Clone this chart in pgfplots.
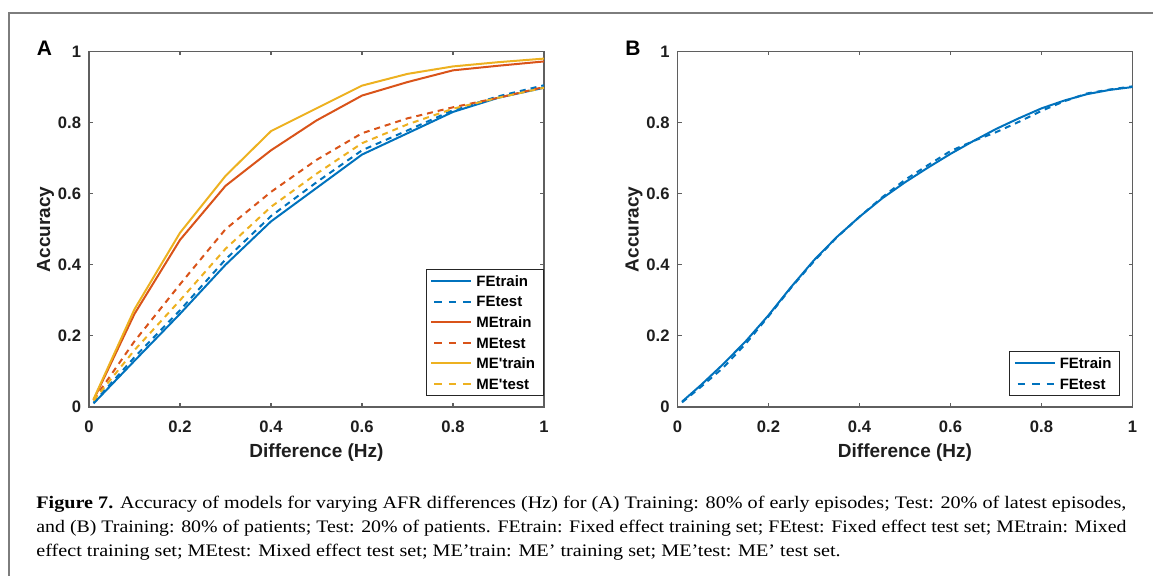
\documentclass[border=0pt]{standalone}
\usepackage{pgfplots}
\pgfplotsset{compat=1.18}
\usepackage{graphicx}
\usepackage{fontspec}
\setmainfont{Liberation Sans}
\newfontfamily\capfont{Liberation Serif}

\definecolor{mblue}{RGB}{0,114,189}
\definecolor{morange}{RGB}{217,83,25}
\definecolor{myellow}{RGB}{237,177,32}
\definecolor{axgray}{RGB}{95,95,95}
\definecolor{txt}{RGB}{30,30,30}
\definecolor{framegray}{RGB}{125,125,125}

\newsavebox\capbox
\newlength\capw
\newcommand\capsize{\capfont\fontsize{8.8}{10}\selectfont}

% MATLAB-like box axis, 1 px of the reference = 0.5pt
\pgfplotsset{
  matlab/.style={
    scale only axis, width=227.5pt, height=177.75pt,
    anchor=south west,
    xmin=0, xmax=1, ymin=0, ymax=1,
    xtick={0,0.2,0.4,0.6,0.8,1}, ytick={0,0.2,0.4,0.6,0.8,1},
    tick align=inside, major tick length=2pt,
    axis line style={axgray, line width=0.8pt},
    tick style={axgray, line width=0.6pt},
    /pgf/number format/assume math mode=true,
    tick label style={font=\bfseries\fontsize{8.3}{9}\selectfont, text=txt, inner sep=0pt},
    xticklabel style={yshift=-7pt},
    yticklabel style={xshift=-3.8pt},
    label style={font=\bfseries\fontsize{9.5}{11}\selectfont, text=txt},
    xlabel style={at={(axis description cs:0.5,0)}, anchor=base, yshift=-25.3pt},
    ylabel style={at={(axis description cs:-0.0857,0.5)}, anchor=base},
    xlabel={Difference (Hz)}, ylabel={Accuracy},
    legend cell align=left,
    legend image code/.code={\draw[##1] (0pt,0pt) -- (20pt,0pt);},
    legend style={draw=black!85, line width=0.5pt, fill=white,
      inner xsep=2pt, inner ysep=0.6pt, anchor=south east,
      font=\bfseries\fontsize{7.5}{8}\selectfont, text=black,
      nodes={inner xsep=2pt, inner ysep=0pt, text height=7.8pt, text depth=2.5pt}},
  },
  trn/.style={line width=1pt, solid},
  tst/.style={line width=1pt, dash pattern=on 3pt off 2.5pt,
    legend image code/.code={\draw[##1, dash pattern=on 3.75pt off 3.5pt, dash phase=5.85pt] (0pt,0pt) -- (20pt,0pt);}},
}

\begin{document}
\begin{tikzpicture}
\path[use as bounding box] (0,0) rectangle (576.5pt,-288pt);
\draw[framegray, line width=1pt] (4.5pt,-288pt) -- (4.5pt,-6.75pt) -- (577pt,-6.75pt);

% panel A
\begin{axis}[matlab, at={(44.5pt,-203.5pt)},
  legend style={at={(axis description cs:0.999,0.031)}}]
\addplot[mblue, trn] coordinates {
  (0.01,0.01) (0.1,0.13) (0.2,0.262) (0.3,0.40) (0.4,0.522) (0.5,0.616)
  (0.6,0.71) (0.7,0.77) (0.8,0.83) (0.9,0.87) (1.0,0.898)};
\addlegendentry{FEtrain}
\addplot[mblue, tst] coordinates {
  (0.01,0.012) (0.1,0.14) (0.2,0.272) (0.3,0.415) (0.4,0.537) (0.5,0.632)
  (0.6,0.722) (0.7,0.778) (0.8,0.835) (0.9,0.874) (1.0,0.905)};
\addlegendentry{FEtest}
\addplot[morange, trn] coordinates {
  (0.01,0.02) (0.1,0.262) (0.2,0.47) (0.3,0.622) (0.4,0.722) (0.5,0.806)
  (0.6,0.876) (0.7,0.914) (0.8,0.947) (0.9,0.96) (1.0,0.972)};
\addlegendentry{MEtrain}
\addplot[morange, tst] coordinates {
  (0.01,0.02) (0.1,0.185) (0.2,0.345) (0.3,0.50) (0.4,0.605) (0.5,0.695)
  (0.6,0.77) (0.7,0.812) (0.8,0.843) (0.9,0.87) (1.0,0.90)};
\addlegendentry{MEtest}
\addplot[myellow, trn] coordinates {
  (0.01,0.022) (0.1,0.275) (0.2,0.49) (0.3,0.65) (0.4,0.776) (0.5,0.84)
  (0.6,0.904) (0.7,0.937) (0.8,0.958) (0.9,0.97) (1.0,0.98)};
\addlegendentry{ME\textquotesingle train\hspace{4.5pt}}
\addplot[myellow, tst] coordinates {
  (0.01,0.018) (0.1,0.16) (0.2,0.30) (0.3,0.445) (0.4,0.563) (0.5,0.656)
  (0.6,0.742) (0.7,0.795) (0.8,0.839) (0.9,0.87) (1.0,0.898)};
\addlegendentry{ME\textquotesingle test}
\end{axis}

% panel B
\begin{axis}[matlab, at={(338.75pt,-203.5pt)},
  legend style={at={(axis description cs:0.9725,0.031)}}]
\addplot[mblue, trn] coordinates {
  (0.01,0.015) (0.05,0.06) (0.1,0.12) (0.15,0.185) (0.2,0.258) (0.25,0.338)
  (0.3,0.413) (0.35,0.478) (0.4,0.535) (0.45,0.587) (0.5,0.632) (0.55,0.673)
  (0.6,0.712) (0.65,0.748) (0.7,0.782) (0.75,0.812) (0.8,0.84) (0.85,0.862)
  (0.9,0.88) (0.95,0.892) (1.0,0.90)};
\addlegendentry{FEtrain}
\addplot[mblue, tst] coordinates {
  (0.01,0.013) (0.05,0.055) (0.1,0.11) (0.15,0.178) (0.2,0.255) (0.25,0.336)
  (0.3,0.41) (0.35,0.477) (0.4,0.535) (0.45,0.59) (0.5,0.639) (0.55,0.68)
  (0.6,0.72) (0.65,0.748) (0.7,0.773) (0.75,0.802) (0.8,0.833) (0.85,0.86)
  (0.9,0.882) (0.95,0.893) (1.0,0.902)};
\addlegendentry{FEtest}
\end{axis}

% panel letters
\node[font=\bfseries\fontsize{10.5}{12}\selectfont, text=black] at (22.25pt,-24.2pt) {A};
\node[font=\bfseries\fontsize{10.5}{12}\selectfont, text=black] at (316.5pt,-24.2pt) {B};

% caption: line 1 is stretched to the full width, line 3 gets the same factor
\node[anchor=base west, inner sep=0pt] at (18pt,-254.5pt) {%
  \sbox\capbox{\capsize\textbf{Figure 7.} Accuracy of models for varying AFR differences (Hz) for (A) Training: 80\% of early episodes; Test: 20\% of latest episodes,}%
  \setlength\capw{\wd\capbox}%
  \pgfmathsetmacro\capratio{545/\capw}%
  \global\let\capratioG\capratio
  \scalebox{\capratio}[1]{\usebox\capbox}};
\node[anchor=base west, inner sep=0pt] at (18pt,-266.5pt) {\resizebox{545pt}{\height}{\capsize and (B) Training: 80\% of patients; Test: 20\% of patients. FEtrain: Fixed effect training set; FEtest: Fixed effect test set; MEtrain: Mixed}};
\node[anchor=base west, inner sep=0pt] at (18pt,-278.2pt) {\scalebox{\capratioG}[1]{\capsize effect training set; MEtest: Mixed effect test set; ME’train: ME’ training set; ME’test: ME’ test set.}};
\end{tikzpicture}
\end{document}
